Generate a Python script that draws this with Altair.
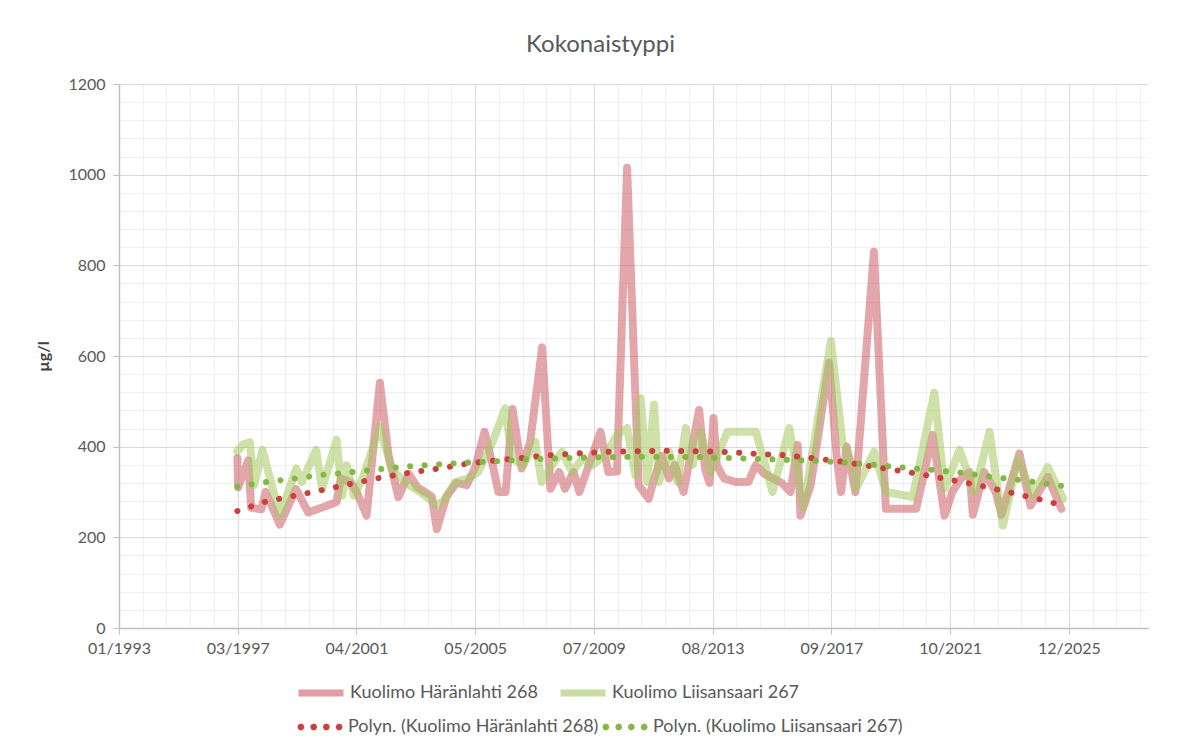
import altair as alt
import pandas as pd

# ---------------- data ----------------
S_RED = "Kuolimo Häränlahti 268"
S_GREEN = "Kuolimo Liisansaari 267"
T_RED = "Polyn. (Kuolimo Häränlahti 268)"
T_GREEN = "Polyn. (Kuolimo Liisansaari 267)"

red_dates = [
    "1997-03-03", "1997-03-14", "1997-07-19", "1997-08-25", "1998-01-01", "1998-02-24",
    "1998-08-22", "1999-03-14", "1999-08-15", "2000-03-14", "2000-08-08", "2000-10-01",
    "2001-02-06", "2001-04-20", "2001-08-22", "2002-02-06", "2002-05-27", "2002-09-27",
    "2003-02-06", "2003-05-27", "2003-08-29", "2003-11-24", "2004-01-26", "2004-05-27",
    "2004-10-01", "2005-02-06", "2005-05-27", "2005-09-20", "2006-01-01", "2006-03-14",
    "2006-06-13", "2006-09-09", "2007-01-01", "2007-04-20", "2007-09-17", "2008-01-01",
    "2008-04-20", "2008-07-02", "2008-10-19", "2009-01-01", "2009-09-24", "2010-01-01",
    "2010-04-20", "2010-08-26", "2011-01-19", "2011-05-27", "2011-07-19", "2011-11-06",
    "2012-02-06", "2012-04-20", "2012-08-08", "2013-02-21", "2013-05-08", "2013-07-02",
    "2013-08-22", "2013-10-01", "2014-01-01", "2014-05-27", "2014-11-06", "2015-02-06",
    "2015-05-27", "2015-09-13", "2016-01-01", "2016-04-20", "2016-07-19", "2016-08-25",
    "2017-01-01", "2017-08-22", "2017-11-24", "2018-01-19", "2018-04-01", "2018-07-19",
    "2019-03-10", "2019-08-08", "2020-08-25", "2021-03-22", "2021-08-19", "2021-11-24",
    "2022-03-14", "2022-07-02", "2022-08-11", "2023-01-01", "2023-05-27", "2023-08-08",
    "2024-03-22", "2024-08-08", "2025-03-14", "2025-09-02",
]
red_values = [
    375, 310, 370, 265, 262, 300,
    228, 307, 255, 268, 278, 330,
    320, 300, 248, 541, 380, 289,
    340, 310, 300, 290, 218, 290,
    320, 315, 355, 433, 359, 300,
    300, 483, 352, 411, 619, 307,
    344, 307, 344, 300, 433, 344,
    345, 1015, 315, 285, 320, 380,
    330, 360, 300, 481, 350, 320,
    463, 359, 330, 322, 322, 359,
    340, 330, 320, 300, 404, 248,
    315, 585, 380, 300, 400, 300,
    830, 263, 263, 426, 248, 300,
    330, 344, 250, 344, 300, 250,
    385, 270, 333, 263,
]

green_dates = [
    "1997-03-03", "1997-05-08", "1997-08-08", "1997-10-01", "1998-01-15", "1998-08-22",
    "1999-03-18", "1999-05-27", "1999-11-24", "2000-02-06", "2000-08-08", "2000-10-19",
    "2000-12-14", "2001-03-14", "2001-07-02", "2002-02-06", "2002-07-02", "2002-12-14",
    "2003-07-02", "2004-02-06", "2004-05-08", "2004-09-13", "2005-02-24", "2005-07-02",
    "2006-01-01", "2006-06-10", "2006-09-02", "2007-01-23", "2007-06-21", "2007-09-13",
    "2008-01-19", "2008-05-27", "2008-10-01", "2009-02-06", "2009-06-10", "2009-11-24",
    "2010-04-20", "2010-08-26", "2010-12-10", "2011-02-14", "2011-05-08", "2011-07-31",
    "2011-10-01", "2012-02-06", "2012-05-23", "2012-09-06", "2012-11-29", "2013-03-14",
    "2013-07-17", "2014-02-14", "2015-02-06", "2015-04-09", "2015-09-06", "2016-04-06",
    "2016-10-01", "2017-03-07", "2017-09-13", "2018-02-06", "2018-06-13", "2018-07-27",
    "2019-03-14", "2019-08-11", "2020-07-13", "2021-04-12", "2021-08-19", "2022-02-24",
    "2022-09-02", "2023-03-10", "2023-08-26", "2024-03-04", "2024-09-09", "2025-03-14",
    "2025-09-24",
]
green_values = [
    390, 404, 410, 315, 393, 248,
    352, 322, 393, 307, 415, 292,
    359, 292, 330, 444, 352, 322,
    300, 270, 285, 322, 330, 344,
    411, 485, 374, 359, 411, 322,
    359, 389, 344, 374, 359, 381,
    426, 441, 337, 507, 322, 493,
    322, 389, 322, 441, 359, 433,
    344, 433, 433, 396, 300, 441,
    267, 433, 633, 411, 359, 307,
    389, 300, 289, 519, 307, 393,
    300, 433, 226, 374, 293, 355,
    285,
]

trend_red_dates = [
    "1997-03-03", "1998-03-01", "1999-03-01", "2000-03-01", "2001-03-01", "2002-03-01",
    "2003-03-01", "2004-03-01", "2005-03-01", "2006-03-01", "2007-03-01", "2008-03-01",
    "2009-03-01", "2010-03-01", "2011-03-01", "2012-03-01", "2013-03-01", "2014-03-01",
    "2015-03-01", "2016-03-01", "2017-03-01", "2018-03-01", "2019-03-01", "2020-03-01",
    "2021-03-01", "2022-03-01", "2023-03-01", "2024-03-01", "2025-03-01", "2025-09-02",
]
trend_red_values = [
    258, 279, 292, 305, 319, 332,
    343, 352, 363, 370, 376, 382,
    386, 389, 390, 391, 390, 388,
    384, 381, 374, 366, 356, 346,
    335, 323, 310, 295, 280, 271,
]
trend_green_dates = [
    "1997-03-03", "1998-03-01", "1999-03-01", "2000-03-01", "2001-03-01", "2002-03-01",
    "2003-03-01", "2004-03-01", "2005-03-01", "2006-03-01", "2007-03-01", "2008-03-01",
    "2009-03-01", "2010-03-01", "2011-03-01", "2012-03-01", "2013-03-01", "2014-03-01",
    "2015-03-01", "2016-03-01", "2017-03-01", "2018-03-01", "2019-03-01", "2020-03-01",
    "2021-03-01", "2022-03-01", "2023-03-01", "2024-03-01", "2025-03-01", "2025-09-24",
]
trend_green_values = [
    312, 322, 330, 338, 344, 351,
    357, 361, 365, 368, 372, 374,
    376, 377, 378, 377, 377, 375,
    373, 371, 369, 365, 360, 354,
    349, 343, 334, 327, 318, 313,
]

# ---------------- tables ----------------
df = pd.concat([
    pd.DataFrame({"date": red_dates, "value": red_values, "series": S_RED}),
    pd.DataFrame({"date": green_dates, "value": green_values, "series": S_GREEN}),
], ignore_index=True)
df["t"] = pd.to_datetime(df["date"], utc=True).astype("int64") // 10**6

tdf = pd.concat([
    pd.DataFrame({"date": trend_red_dates, "value": trend_red_values, "trend": T_RED}),
    pd.DataFrame({"date": trend_green_dates, "value": trend_green_values, "trend": T_GREEN}),
], ignore_index=True)
tdf["t"] = pd.to_datetime(tdf["date"], utc=True).astype("int64") // 10**6

DAY = 86400000
T0 = int(pd.Timestamp("1993-01-28", tz="UTC").value // 10**6)
STEP = 300 * DAY                      # minor step; major = 5 minor steps (1500 days)
x_vals = [T0 + k * STEP for k in range(44)]
y_vals = list(range(0, 1201, 40))

FONT = "Lato"
TXT = "#595959"
MAJOR = "#d9d9d9"
MINOR = "#efefef"

x_major_test = f"round((datum.value - {T0}) / {STEP}) % 5 === 0"
y_major_test = "datum.value % 200 === 0"

x_axis = alt.Axis(
    values=x_vals, tickCount=200, title=None,
    labelExpr=f"{x_major_test} ? utcFormat(datum.value, '%m/%Y') : ''",
    labelOverlap=False, labelFlush=False, labelBound=False,
    labelFont=FONT, labelFontSize=16, labelColor=TXT, labelPadding=6,
    grid=True,
    gridColor={"condition": {"test": x_major_test, "value": MAJOR}, "value": MINOR},
    gridWidth=1,
    tickColor={"condition": {"test": x_major_test, "value": "#bfbfbf"}, "value": "transparent"},
    tickSize=6, domainColor="#bfbfbf", domainWidth=1.5,
)
y_axis = alt.Axis(
    values=y_vals, tickCount=200, title="µg/l",
    labelExpr=f"{y_major_test} ? format(datum.value, 'd') : ''",
    labelOverlap=False, labelFlush=False,
    labelFont=FONT, labelFontSize=16, labelColor=TXT, labelPadding=8,
    titleFont=FONT, titleFontSize=16, titleColor="#404040", titleFontWeight="bold",
    titlePadding=16,
    grid=True,
    gridColor={"condition": {"test": y_major_test, "value": MAJOR}, "value": MINOR},
    gridWidth=1,
    tickColor={"condition": {"test": y_major_test, "value": "#bfbfbf"}, "value": "transparent"},
    tickSize=6, domainColor="#bfbfbf", domainWidth=1.5,
)

line_colors = alt.Scale(domain=[S_RED, S_GREEN], range=["#cc5e66", "#a4c862"])
trend_colors = alt.Scale(domain=[T_RED, T_GREEN], range=["#cc3f3f", "#84b844"])


# four small dots (tiny octagons, thickened by the stroke) for the
# trend-line legend entries, in the unit square -1..1
def _dot(cx, r=0.035):
    pts = [(cx + r, 0), (cx + 0.7 * r, 0.7 * r), (cx, r), (cx - 0.7 * r, 0.7 * r),
           (cx - r, 0), (cx - 0.7 * r, -0.7 * r), (cx, -r), (cx + 0.7 * r, -0.7 * r)]
    return "M" + "L".join(f"{x:.4f},{y:.4f}" for x, y in pts) + "Z"


DOTS = "".join(_dot(c) for c in (-0.85, -0.28, 0.28, 0.85))

common_legend = dict(
    title=None, orient="none", columns=2, gridAlign="none",
    symbolSize=2025, labelFont=FONT, labelFontSize=18, labelColor=TXT,
    labelOffset=3, labelLimit=400,
)
line_legend = alt.Legend(symbolType="stroke", symbolStrokeWidth=7, symbolOpacity=0.6,
                         legendX=176, legendY=583, columnPadding=8, **common_legend)
trend_legend = alt.Legend(symbolType=DOTS, symbolStrokeWidth=5, symbolOpacity=1,
                          symbolDash=[1, 0],
                          legendX=176, legendY=618, columnPadding=-4, **common_legend)

x_enc = alt.X("t:T", scale=alt.Scale(type="utc", domain=[T0, T0 + 13000 * DAY]), axis=x_axis)
y_enc = alt.Y("value:Q", scale=alt.Scale(domain=[0, 1200]), axis=y_axis)

lines = alt.Chart(df).mark_line(
    strokeWidth=8, opacity=0.55, strokeJoin="round", strokeCap="round"
).encode(
    x=x_enc, y=y_enc,
    color=alt.Color("series:N", scale=line_colors, legend=line_legend),
)

trend = alt.Chart(tdf).mark_line(
    strokeWidth=6, strokeCap="round", strokeDash=[0.1, 14.4]
).encode(
    x=alt.X("t:T"), y=alt.Y("value:Q"),
    color=alt.Color("trend:N", scale=trend_colors, legend=trend_legend),
)

chart = alt.layer(lines, trend).resolve_scale(color="independent").properties(
    width=1029, height=544,
    title=alt.TitleParams("Kokonaistyppi", font=FONT, fontSize=24, color=TXT,
                          fontWeight="normal", anchor="middle", dx=-33, offset=19),
    autosize=alt.AutoSizeParams(type="none"),
    padding={"left": 111, "top": 76, "right": 44, "bottom": 115},
).configure_view(strokeWidth=0)

chart.save("out.html", embed_options={"renderer": "svg", "actions": False})
